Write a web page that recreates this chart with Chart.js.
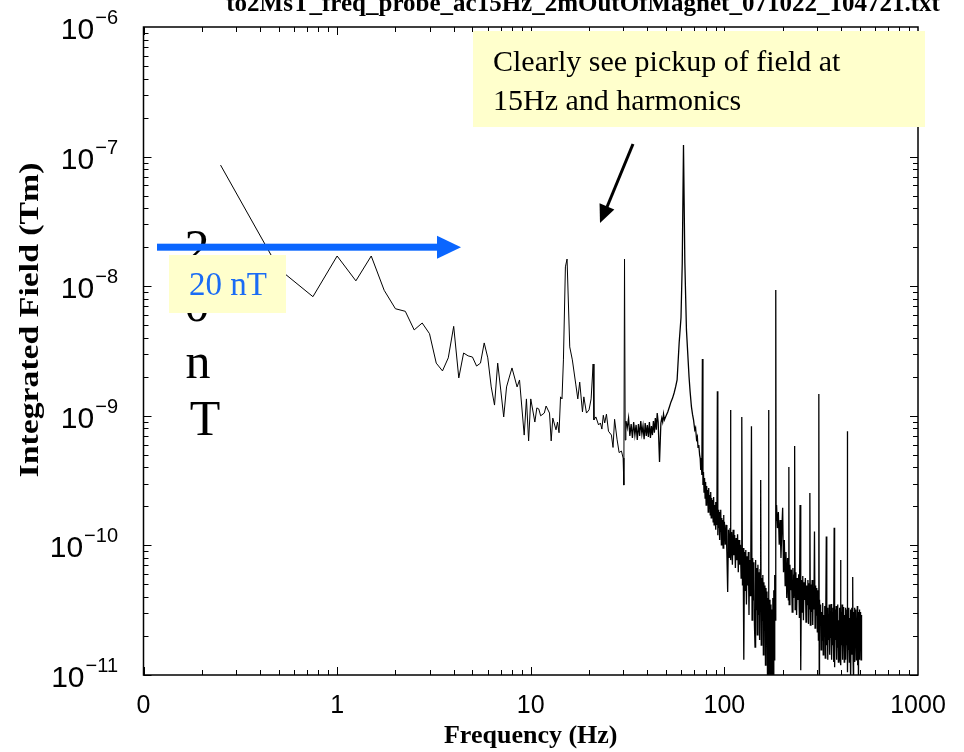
<!DOCTYPE html>
<html>
<head>
<meta charset="utf-8">
<title>Integrated field spectrum</title>
<script src="https://cdn.jsdelivr.net/npm/chart.js@4.4.1/dist/chart.umd.min.js"></script>
<style>
  html, body { margin: 0; padding: 0; background: #fff; }
  #wrap { width: 964px; height: 752px; }
</style>
</head>
<body>
<div id="wrap"><canvas id="fieldChart" width="964" height="752"></canvas></div>
<script>
// Spectrum of the integrated field (Hz, Tm)
// 0.25 - 31 Hz
const lowFreqHz = [0.25, 0.5, 0.75, 1, 1.25, 1.5, 1.75, 2, 2.25, 2.5, 2.75, 3, 3.25, 3.5, 3.75, 4, 4.25, 4.5, 4.75, 5,
  5.25, 5.5, 5.75, 6, 6.25, 6.5, 6.75, 7, 7.25, 7.5, 7.75, 8, 8.5, 8.75, 9.25, 9.5, 9.75, 10, 10.5, 10.75,
  11, 11.25, 11.75, 12, 12.5, 12.75, 13, 13.5, 13.75, 14, 14.25, 14.5, 14.75, 15.1, 15.4, 15.9, 16.4, 17.1, 17.5, 17.9,
  18.5, 18.8, 19.4, 20, 20.5, 21, 21.2, 21.7, 22.4, 22.9, 23.3, 23.7, 24.1, 24.6, 25.2, 26.1, 26.6, 27.1, 27.9, 28.6,
  29.4, 30, 30.25, 30.5, 30.75, 31];
const lowField = [8.6e-8, 1.36e-8, 8.3e-9, 1.71e-8, 1.1e-8, 1.71e-8, 9.3e-9, 6.7e-9, 6.4e-9, 4.6e-9,
  5.2e-9, 4.3e-9, 2.55e-9, 2.22e-9, 2.8e-9, 4.9e-9, 1.96e-9, 3.05e-9, 2.9e-9, 2.84e-9,
  2.42e-9, 2.55e-9, 3.65e-9, 2.8e-9, 1.67e-9, 1.21e-9, 2.55e-9, 1.58e-9, 9.8e-10, 1.67e-9,
  1.99e-9, 2.34e-9, 1.67e-9, 1.89e-9, 7.1e-10, 1.35e-9, 6.4e-10, 1.35e-9, 8.95e-10, 1.15e-9,
  1.13e-9, 1.0e-9, 1.05e-9, 1.19e-9, 1.05e-9, 6.4e-10, 9.6e-10, 7.8e-10, 8.95e-10, 7.4e-10,
  1.4e-9, 1.35e-9, 2.7e-9, 1.41e-8, 1.62e-8, 3.4e-9, 2.7e-9, 1.73e-9, 1.35e-9, 1.82e-9,
  1.07e-9, 1.4e-9, 1.05e-9, 1.11e-9, 1.35e-9, 2.51e-9, 9.3e-10, 9.8e-10, 8.5e-10, 8.8e-10,
  7.9e-10, 1.01e-9, 8.8e-10, 1.03e-9, 7.6e-10, 7.1e-10, 5.7e-10, 9.4e-10, 6.6e-10, 5.2e-10,
  5.35e-10, 4.72e-10, 2.92e-10, 1.62e-8, 6.5e-10, 9.1e-10];

// 31.5 - 74.5 Hz, around the 61.5 Hz line
const humFreqHz = [31.5, 32, 32.5, 33, 33.5, 34, 34.5, 35, 35.5, 36, 36.5, 37, 37.5, 38, 38.5, 39, 39.5, 40, 40.5, 41,
  41.5, 42, 42.5, 43, 43.5, 44, 44.5, 45, 45.5, 46.25, 47, 47.5, 48, 48.5, 49, 50, 51, 52, 53, 54,
  55, 56, 57, 58.4, 59.7, 60.6, 61.5, 62.5, 63.7, 65.7, 66.5, 67.6, 68.5, 69.3, 70.3, 71, 71.8, 72.5, 73.1, 73.8, 74.5];
const humField = [8.05e-10, 9.6e-10, 7.0e-10, 8.65e-10, 6.75e-10, 8.95e-10, 7.1e-10, 8.5e-10, 6.5e-10, 8.65e-10,
  7.0e-10, 9.1e-10, 7.25e-10, 8.35e-10, 6.6e-10, 8.8e-10, 7.0e-10, 8.5e-10, 6.86e-10, 8.95e-10,
  6.75e-10, 8.35e-10, 7.1e-10, 9.1e-10, 7.4e-10, 9.6e-10, 7.8e-10, 1.05e-9, 8.95e-10, 4.4e-10,
  8.8e-10, 9.6e-10, 8.95e-10, 1.03e-9, 9.3e-10, 1.0e-9, 1.07e-9, 1.17e-9, 1.28e-9, 1.37e-9,
  1.5e-9, 1.67e-9, 1.89e-9, 3.65e-9, 5.7e-9, 1.51e-8, 1.23e-7, 1.51e-8, 4.6e-9, 1.99e-9,
  1.55e-9, 1.17e-9, 1.02e-9, 9.3e-10, 7.8e-10, 8.1e-10, 6.6e-10, 6.9e-10, 5.7e-10, 5.96e-10, 5.0e-10];

// 75 - 185 Hz, noise band with the 5th to 12th harmonics
const bandFreqHz = [75, 75.5, 76, 76.5, 77, 77.5, 78, 78.5, 79, 79.5,
  80, 80.5, 81, 81.5, 82, 82.5, 83, 83.5, 84, 84.5,
  85, 85.5, 86, 86.5, 87, 87.5, 88, 88.5, 89, 89.5,
  90, 90.5, 91, 91.5, 92, 92.5, 93, 93.5, 94, 94.5,
  95, 95.5, 96, 96.5, 97, 97.5, 98, 98.5, 99, 99.5,
  100,
  101, 102, 103, 104, 105, 106, 107, 107.6, 108, 109,
  110, 111, 112, 113, 114, 115, 116, 117, 118, 119,
  120, 121, 122, 123, 124, 125, 126, 127, 128, 129,
  130, 131, 132, 133, 134, 135, 136, 137, 138, 139,
  140, 141, 142, 143, 144, 145, 146, 147, 148, 149,
  150, 151, 152, 153, 154, 155, 156, 157, 158, 159,
  160, 161, 162, 163, 164, 165, 166, 167, 168, 169,
  170, 171, 172, 173, 174, 175, 176, 177, 178, 179,
  180, 181, 182, 183, 184, 184.5, 185];
const bandField = [4.72e-10, 3.82e-10, 4.4e-10, 3.49e-10, 2.74e-9, 2.92e-10, 3.68e-10, 2.58e-10, 3.31e-10, 2.32e-10,
  3.08e-10, 2.05e-10, 2.87e-10, 2.24e-10, 2.67e-10, 1.81e-10, 2.77e-10, 1.95e-10, 2.45e-10, 1.72e-10,
  2.58e-10, 1.63e-10, 2.32e-10, 1.88e-10, 2.24e-10, 1.52e-10, 2.36e-10, 1.44e-10, 2.05e-10, 1.63e-10,
  2.16e-10, 1.32e-10, 1.95e-10, 1.44e-10, 1.55e-9, 1.2e-10, 1.88e-10, 1.36e-10, 1.81e-10, 1.1e-10,
  1.72e-10, 1.27e-10, 1.88e-10, 1.01e-10, 1.63e-10, 1.2e-10, 1.57e-10, 9.55e-11, 1.72e-10, 1.1e-10,
  1.52e-10,
  1.01e-10, 1.44e-10, 8.9e-11, 4.37e-11, 1.32e-10, 8.0e-11, 1.36e-10, 1.11e-9, 7.7e-11, 1.27e-10,
  7.1e-11, 1.32e-10, 8.4e-11, 1.2e-10, 6.7e-11, 1.14e-10, 7.7e-11, 1.22e-10, 6.2e-11, 1.1e-10,
  7.1e-11, 1.01e-10, 5.6e-11, 9.8e-10, 4.9e-11, 9.55e-11, 1.31e-11, 8.9e-11, 4.5e-11, 9.2e-11,
  3.5e-11, 8.25e-11, 4.9e-11, 8.9e-11, 2.9e-11, 7.7e-11, 4.1e-11, 8.4e-11, 8.3e-10, 2.65e-11,
  8.0e-11, 3.8e-11, 7.4e-11, 2.43e-11, 1.64e-11, 7.7e-11, 3.2e-11, 6.7e-11, 2.04e-11, 7.1e-11,
  2.9e-11, 6.2e-11, 1.86e-11, 6.5e-11, 3.2e-10, 1.7e-11, 5.6e-11, 2.65e-11, 5.9e-11, 1.43e-11,
  5.2e-11, 2.22e-11, 4.9e-11, 1.19e-11, 4.7e-11, 1.86e-11, 4.4e-11, 9.1e-12, 3.93e-11, 1.11e-9,
  7.7e-12, 3.8e-11, 1.56e-11, 6.4e-12, 3.5e-11, 4.5e-12, 3.2e-11, 9.1e-12, 3.93e-11, 6.4e-12,
  4.5e-11, 1.31e-11, 5.9e-11, 2.65e-11, 7.7e-11, 9.35e-9, 1.57e-10];

// 186 - 512 Hz, end of the record
const tailFreqHz = [186, 188, 190, 192, 194, 196, 198, 200, 202, 204,
  206, 208, 210, 212, 214, 215.3, 216, 218, 220, 222,
  224, 226, 228, 230, 230.6, 232, 234, 236, 238, 240,
  242, 244, 246, 248, 250, 252, 254, 256, 258, 260,
  262, 264, 266, 268, 270, 272, 274, 276, 276.8, 278,
  280, 282, 284, 286, 288, 290, 292, 294, 296, 298,
  300, 302, 304, 306, 307.5, 309, 310, 312, 314, 316,
  318, 320, 322, 324, 326, 328, 330, 332, 334, 336,
  338, 340, 342, 344, 346, 348, 350, 352, 354, 356,
  358, 360, 362, 364, 366, 368, 369, 370, 372, 374,
  376, 378, 380, 382, 384, 386, 388, 390, 392, 394,
  396, 398, 400, 402, 404, 406, 408, 410, 412, 414,
  416, 418, 420, 422, 424, 426, 428, 430, 431, 432,
  434, 436, 438, 440, 442, 444, 446, 448, 450, 452,
  454, 456, 458, 460, 462, 464, 466, 468, 470, 472,
  474, 476, 478, 480, 482, 484, 486, 488, 490, 492,
  494, 496, 498, 500, 502, 504, 506, 508, 510, 512];
const tailField = [2.05e-10, 1.36e-10, 1.81e-10, 1.01e-10, 1.57e-10, 8.0e-11, 1.32e-10, 1.95e-10, 6.2e-11, 1.1e-10,
  4.9e-11, 8.9e-11, 3.93e-11, 8.0e-11, 3.8e-11, 4.03e-10, 3.5e-11, 7.1e-11, 4.5e-11, 6.5e-11,
  3.06e-11, 6.7e-11, 3.93e-11, 5.9e-11, 5.85e-10, 3.2e-11, 6.2e-11, 2.9e-11, 5.6e-11, 3.8e-11,
  6.0e-11, 2.75e-11, 2.05e-10, 1.09e-11, 5.4e-11, 3.06e-11, 5.8e-11, 2.65e-11, 5.2e-11, 3.8e-11,
  5.6e-11, 2.56e-11, 4.9e-11, 3.5e-11, 5.4e-11, 2.48e-11, 5.1e-11, 3.2e-11, 2.54e-10, 2.43e-11,
  5.0e-11, 3.06e-11, 5.4e-11, 2.43e-11, 4.8e-11, 3.2e-11, 1.28e-10, 2.3e-11, 4.9e-11, 2.9e-11,
  4.7e-11, 2.15e-11, 4.5e-11, 1.86e-11, 1.47e-9, 7.7e-12, 3.8e-11, 2.43e-11, 3.5e-11, 1.56e-11,
  3.06e-11, 1.86e-11, 3.6e-11, 1.43e-11, 2.9e-11, 2.04e-11, 3.4e-11, 1.35e-11, 2.75e-11, 1.17e-10,
  1.7e-11, 3.3e-11, 1.31e-11, 2.9e-11, 1.86e-11, 3.5e-11, 1.43e-11, 2.65e-11, 1.93e-11, 3.53e-11,
  1.31e-11, 3.06e-11, 1.7e-11, 3.3e-11, 1.26e-11, 2.75e-11, 1.37e-10, 1.56e-11, 1.15e-11, 3.2e-11,
  1.86e-11, 3.4e-11, 1.31e-11, 2.9e-11, 1.62e-11, 3.5e-11, 1.26e-11, 2.65e-11, 1.86e-11, 3.3e-11,
  1.31e-11, 7.7e-11, 1.19e-11, 3.06e-11, 1.7e-11, 3.5e-11, 1.31e-11, 2.75e-11, 1.8e-11, 3.35e-11,
  1.26e-11, 2.9e-11, 1.86e-11, 3.3e-11, 1.31e-11, 2.65e-11, 1.7e-11, 3.2e-11, 7.6e-10, 1.19e-11,
  1.05e-11, 3.06e-11, 1.56e-11, 3.3e-11, 1.26e-11, 2.75e-11, 1.86e-11, 3.2e-11, 9.1e-12, 2.9e-11,
  1.43e-11, 3.3e-11, 1.7e-11, 5.7e-11, 1.31e-11, 8.3e-12, 3.06e-11, 1.56e-11, 3.3e-11, 1.26e-11,
  2.9e-11, 1.8e-11, 3.2e-11, 1.31e-11, 2.75e-11, 1.7e-11, 3.4e-11, 1.19e-11, 3.06e-11, 7.7e-12,
  2.9e-11, 1.62e-11, 3.2e-11, 1.31e-11, 2.75e-11, 1.8e-11, 3.06e-11, 1.31e-11, 2.9e-11, 1.86e-11];

// axis labels
const xMajorTicks = [0.1, 1, 10, 100, 1000];
const xTickText = ['0', '1', '10', '100', '1000'];
const yMajorTicks = [1e-11, 1e-10, 1e-9, 1e-8, 1e-7, 1e-6];
const yExponentText = ['\u221211', '\u221210', '\u22129', '\u22128', '\u22127', '\u22126'];

const fileTitle = 'to2MsT_freq_probe_ac15Hz_2mOutOfMagnet_071022_104721.txt';

const points = [];
[[lowFreqHz, lowField], [humFreqHz, humField], [bandFreqHz, bandField], [tailFreqHz, tailField]].forEach(([f, v]) => {
  f.forEach((hz, i) => points.push({ x: hz, y: v[i] }));
});

const SERIF = '"Liberation Serif", "Times New Roman", serif';
const SANS = '"Liberation Sans", Arial, sans-serif';

function arrowHead(ctx, x1, y1, x2, y2, len, half) {
  const ang = Math.atan2(y2 - y1, x2 - x1);
  ctx.beginPath();
  ctx.moveTo(x2, y2);
  ctx.lineTo(x2 - len * Math.cos(ang) + half * Math.sin(ang), y2 - len * Math.sin(ang) - half * Math.cos(ang));
  ctx.lineTo(x2 - len * Math.cos(ang) - half * Math.sin(ang), y2 - len * Math.sin(ang) + half * Math.cos(ang));
  ctx.closePath();
  ctx.fill();
}

// frame with inward ticks, y labels, titles and the slide annotations
const decorations = {
  id: 'decorations',
  afterDatasetsDraw(chart) {
    const { ctx, chartArea: a, scales: { x, y } } = chart;
    ctx.save();

    ctx.strokeStyle = '#000';
    ctx.lineWidth = 1;
    ctx.beginPath();
    for (let e = -1; e < 3; e++) {
      for (let k = 1; k < 10; k++) {
        const px = Math.round(x.getPixelForValue(k * Math.pow(10, e))) + 0.5;
        const len = k === 1 ? 8 : 5;
        ctx.moveTo(px, a.bottom); ctx.lineTo(px, a.bottom - len);
        ctx.moveTo(px, a.top); ctx.lineTo(px, a.top + len);
      }
    }
    for (let e = -11; e < -6; e++) {
      for (let k = 1; k < 10; k++) {
        const py = Math.round(y.getPixelForValue(k * Math.pow(10, e))) + 0.5;
        const len = k === 1 ? 8 : 5;
        ctx.moveTo(a.left, py); ctx.lineTo(a.left + len, py);
        ctx.moveTo(a.right, py); ctx.lineTo(a.right - len, py);
      }
    }
    ctx.stroke();
    ctx.lineWidth = 1.5;
    ctx.strokeRect(a.left, a.top, a.right - a.left, a.bottom - a.top);

    // y tick labels 10^n
    ctx.fillStyle = '#000';
    ctx.textAlign = 'right';
    ctx.textBaseline = 'alphabetic';
    yMajorTicks.forEach((v, i) => {
      const py = y.getPixelForValue(v);
      ctx.font = '20px ' + SANS;
      const w = ctx.measureText(yExponentText[i]).width;
      ctx.fillText(yExponentText[i], 118, py - 3);
      ctx.font = '30px ' + SANS;
      ctx.fillText('10', 118 - w - 1, py + 12);
    });

    // y axis title
    ctx.save();
    ctx.translate(31, 320);
    ctx.rotate(-Math.PI / 2);
    ctx.scale(1.25, 1);
    ctx.font = 'bold 27px ' + SERIF;
    ctx.textAlign = 'center';
    ctx.textBaseline = 'middle';
    ctx.fillText('Integrated Field (Tm)', 0, 0);
    ctx.restore();

    // file name title, cut by the top of the slide
    ctx.font = 'bold 25px ' + SERIF;
    ctx.textAlign = 'center';
    ctx.textBaseline = 'alphabetic';
    ctx.fillText(fileTitle, 583, 11);

    // large stacked "20 nT"
    ctx.font = '50px ' + SERIF;
    [['2', 197], ['0', 197], ['n', 198], ['T', 205]].forEach(([ch, cx], i) => ctx.fillText(ch, cx, 264 + i * 57));

    // blue arrow at 20 nT
    const ay = y.getPixelForValue(2e-8);
    ctx.fillStyle = '#0a66ff';
    ctx.fillRect(157, ay - 3.5, 282, 7);
    ctx.beginPath();
    ctx.moveTo(437, ay - 11.5);
    ctx.lineTo(461, ay);
    ctx.lineTo(437, ay + 11.5);
    ctx.closePath();
    ctx.fill();

    // small label box
    ctx.fillStyle = '#ffffcc';
    ctx.fillRect(169, 255, 117, 58);
    ctx.fillStyle = '#1a6cf5';
    ctx.font = '33px ' + SERIF;
    ctx.textAlign = 'left';
    ctx.fillText('20 nT', 189, 295);

    // comment box
    ctx.fillStyle = '#ffffcc';
    ctx.fillRect(473, 31, 452, 96);
    ctx.fillStyle = '#000';
    ctx.font = '30px ' + SERIF;
    ctx.fillText('Clearly see pickup of field at', 493, 71);
    ctx.fillText('15Hz and harmonics', 493, 110);

    // black arrow to the harmonics
    ctx.strokeStyle = '#000';
    ctx.lineWidth = 3;
    ctx.beginPath();
    ctx.moveTo(633, 144);
    ctx.lineTo(607, 207);
    ctx.stroke();
    arrowHead(ctx, 633, 144, 600, 223, 18, 8);

    ctx.restore();
  }
};

new Chart(document.getElementById('fieldChart'), {
  type: 'line',
  data: {
    datasets: [{
      data: points,
      borderColor: '#000',
      borderWidth: 1,
      pointRadius: 0,
      tension: 0,
      fill: false,
      // the dense noise above 31 Hz reads as a heavier band in the original
      segment: { borderWidth: (c) => (c.p0.parsed.x >= 31 ? 1.3 : 1) }
    }]
  },
  options: {
    responsive: false,
    animation: false,
    events: [],
    layout: { padding: { top: 27, right: 46, bottom: 0, left: 0 } },
    plugins: {
      legend: { display: false },
      tooltip: { enabled: false }
    },
    scales: {
      x: {
        type: 'logarithmic',
        min: 0.1,
        max: 1000,
        afterBuildTicks: (s) => { s.ticks = xMajorTicks.map((v) => ({ value: v })); },
        afterFit: (s) => { s.height = 77; },
        grid: { display: false },
        border: { display: false },
        ticks: {
          autoSkip: false,
          maxRotation: 0,
          padding: 8,
          color: '#000',
          font: { family: SANS, size: 25 },
          callback: (v, i) => xTickText[i]
        },
        title: {
          display: true,
          text: 'Frequency (Hz)',
          color: '#000',
          font: { family: SERIF, size: 26, weight: 'bold' },
          padding: { top: 0, bottom: 0 }
        }
      },
      y: {
        type: 'logarithmic',
        min: 1e-11,
        max: 1e-6,
        afterFit: (s) => { s.width = 143.5; },
        grid: { display: false },
        border: { display: false },
        ticks: { display: false }
      }
    }
  },
  plugins: [decorations]
});
</script>
</body>
</html>
